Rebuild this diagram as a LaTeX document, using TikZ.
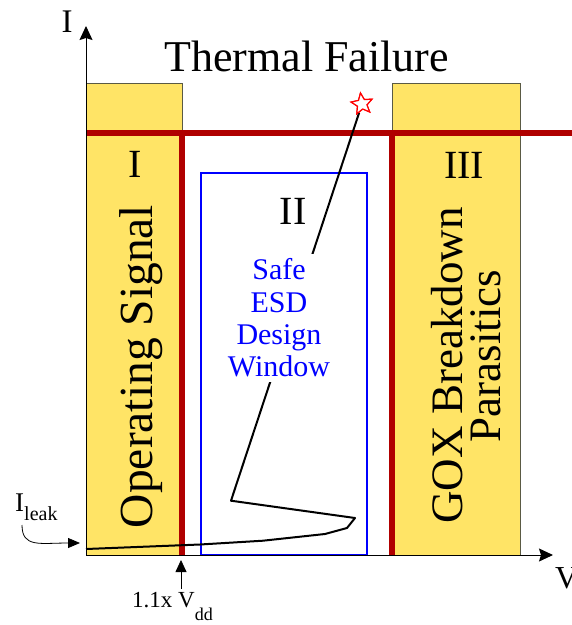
\documentclass[tikz,border=0pt]{standalone}
\usepackage{fontspec}
\setmainfont{Liberation Serif}
\usetikzlibrary{shapes.geometric, arrows.meta}
\definecolor{esdyellow}{HTML}{FFE466}
\definecolor{esdred}{HTML}{B00000}
\definecolor{esdblue}{HTML}{0000FF}
\definecolor{esdedge}{HTML}{5A5A44}

\begin{document}
\begin{tikzpicture}[x=1pt, y=-1pt,
    region/.style={draw=esdedge, fill=esdyellow, line width=0.8pt},
    barrier/.style={esdred, line width=6pt},
    axis/.style={line width=1pt, -{Stealth[length=14pt, width=13pt, inset=2pt]}},
    pointer/.style={line width=0.8pt, -{Triangle[length=12pt, width=10pt]}},
    trace/.style={line width=2pt, line join=round},
    spark/.style={star, star points=5, star point ratio=2.2, draw=red, fill=white,
      line width=1.2pt, minimum size=22pt, inner sep=0pt, rotate=8},
    bigtext/.style={font=\fontsize{45}{45}\selectfont, anchor=base},
    numtext/.style={font=\fontsize{40}{40}\selectfont, anchor=base}]
  \useasboundingbox (0,0) rectangle (572,625);

  \draw[region] (86,83) rectangle (182,555);
  \draw[region] (392,83) rectangle (520,555);
  \draw[esdblue, line width=1.2pt] (201,173) rectangle (367,555);

  \draw[barrier] (86,133) -- (572,133);
  \draw[barrier] (181.5,133) -- (181.5,555);
  \draw[barrier] (392,133) -- (392,555);

  \node[font=\fontsize{44}{44}\selectfont, anchor=base] (thermal) at (306.5,71) {Thermal Failure};
  \node[numtext] (reg1) at (135,177) {I};
  \node[numtext] (reg2) at (293,224) {II};
  \node[numtext] (reg3) at (464,178) {III};
  \node[bigtext, font=\fontsize{47.5}{47.5}\selectfont, rotate=90] (opsig) at (152,366.5) {Operating Signal};
  \node[bigtext, rotate=90] (gox) at (462,365.5) {GOX Breakdown};
  \node[bigtext, rotate=90] (paras) at (500,356) {Parasitics};

  \node[spark] (star) at (362,104) {};
  \draw[trace] (86,549) -- (200,544.5) -- (263,540.7) -- (325,534) -- (347,528)
    -- (355,518) -- (231,500.7) -- (star);
  \node[spark] at (star) {};

  \node[fill=white, text=esdblue, align=center, inner sep=5pt,
        font=\fontsize{30}{32.3}\selectfont] (window) at (279,318) {Safe\\ESD\\Design\\Window};

  \coordinate (origin) at (86,555);
  \coordinate (itop) at (86,26);
  \coordinate (vend) at (553,555);
  \draw[axis] (origin) -- (itop);
  \draw[axis] (origin) -- (vend);
  \node[font=\fontsize{33}{33}\selectfont, anchor=base] (ilab) at (67,32) {I};
  \node[font=\fontsize{32}{32}\selectfont, anchor=base west, inner sep=0pt] (vlab) at (555,588) {V};

  \node[font=\fontsize{27}{27}\selectfont, anchor=base west, inner sep=0pt] (ileak) at (15,511)
    {I\raisebox{-9pt}{\fontsize{20}{20}\selectfont leak}};
  \coordinate (leakstart) at (22,525);
  \coordinate (leakpt) at (80,543);
  \draw[pointer] (leakstart) .. controls (22,548) and (40,543) .. (leakpt);

  \node[font=\fontsize{23}{23}\selectfont, anchor=base west, inner sep=0pt] (vdd) at (132,607)
    {1.1x V\raisebox{-13pt}{\fontsize{18}{18}\selectfont dd}};
  \coordinate (vddpt) at (181,560);
  \draw[pointer, -{Triangle[length=12pt, width=11pt]}] (vddpt |- vdd.north) ++(0,-3) -- (vddpt);
\end{tikzpicture}
\end{document}
